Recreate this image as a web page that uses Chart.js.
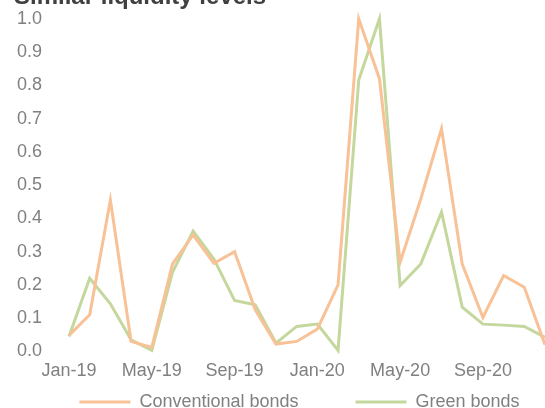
<!DOCTYPE html>
<html>
<head>
<meta charset="utf-8">
<script src="https://cdn.jsdelivr.net/npm/chart.js@4"></script>
<style>
  html, body { margin: 0; padding: 0; background: #fff; }
  body { width: 545px; height: 408px; overflow: hidden; position: relative; }
  /* title is cut off at the top and the last point sits on the right edge */
  #chart { position: absolute; left: 0; top: -19px; }
</style>
</head>
<body>
<canvas id="chart" width="560" height="440"></canvas>
<script>
"use strict";

// months
const months = [
  "Jan-19", "Feb-19", "Mar-19", "Apr-19", "May-19", "Jun-19",
  "Jul-19", "Aug-19", "Sep-19", "Oct-19", "Nov-19", "Dec-19",
  "Jan-20", "Feb-20", "Mar-20", "Apr-20", "May-20", "Jun-20",
  "Jul-20", "Aug-20", "Sep-20", "Oct-20", "Nov-20", "Dec-20"
];
// conventional bonds
const conventional = [
  0.048, 0.11, 0.455, 0.03, 0.012, 0.263, 0.35, 0.265, 0.30, 0.125, 0.022, 0.03,
  0.067, 0.20, 1.0, 0.82, 0.268, 0.459, 0.67, 0.263, 0.102, 0.228, 0.193, 0.02
];
// green bonds
const green = [
  0.045, 0.22, 0.143, 0.035, 0.003, 0.238, 0.362, 0.278, 0.153, 0.14, 0.025, 0.075,
  0.082, 0.003, 0.816, 1.0, 0.198, 0.263, 0.419, 0.133, 0.082, 0.079, 0.075, 0.042
];
const seriesNames = ["Conventional bonds", "Green bonds"];
// spacing after each legend text
const legendGaps = ["           ", "   "];

const orange = "#f8c196";
const olive = "#c4d79c";
const grey = "#808080";
const font = "'Liberation Sans', Arial, sans-serif";

new Chart(document.getElementById("chart").getContext("2d"), {
  type: "line",
  data: {
    labels: months,
    datasets: [
      {
        label: seriesNames[0],
        data: conventional,
        borderColor: orange,
        backgroundColor: orange,
        borderWidth: 3,
        pointRadius: 0,
        tension: 0,
        clip: false
      },
      {
        label: seriesNames[1],
        data: green,
        borderColor: olive,
        backgroundColor: olive,
        borderWidth: 3,
        pointRadius: 0,
        tension: 0,
        clip: false
      }
    ]
  },
  options: {
    responsive: false,
    animation: false,
    devicePixelRatio: 1,
    layout: { padding: { left: 14, right: 15, top: 0, bottom: 0 } },
    scales: {
      x: {
        grid: { display: false, drawTicks: false },
        border: { display: false },
        ticks: {
          autoSkip: false,
          maxRotation: 0,
          padding: 9,
          color: grey,
          font: { family: font, size: 18 },
          callback: function (v, i) {
            return i % 4 === 0 ? months[i] : null;
          }
        }
      },
      y: {
        min: 0,
        max: 1,
        grid: { display: false, drawTicks: false },
        border: { display: false },
        afterFit: function (scale) { scale.width = 55; },
        ticks: {
          stepSize: 0.1,
          padding: 27,
          color: grey,
          font: { family: font, size: 18 },
          callback: function (v) { return Number(v).toFixed(1); }
        }
      }
    },
    plugins: {
      title: {
        display: true,
        text: "Similar liquidity levels",
        align: "start",
        color: "#404040",
        font: { family: font, size: 24, weight: "bold" },
        padding: { top: 0, bottom: 7.2 }
      },
      legend: {
        position: "bottom",
        fullSize: false,
        labels: {
          boxWidth: 51,
          boxHeight: 3,
          padding: 2,
          color: grey,
          font: { family: font, size: 18 },
          generateLabels: function (chart) {
            return chart.data.datasets.map(function (ds, i) {
              return {
                text: ds.label + legendGaps[i],
                fillStyle: ds.borderColor,
                strokeStyle: ds.borderColor,
                lineWidth: 0,
                fontColor: grey,
                datasetIndex: i,
                hidden: false
              };
            });
          }
        }
      },
      tooltip: { enabled: false }
    }
  }
});
</script>
</body>
</html>
